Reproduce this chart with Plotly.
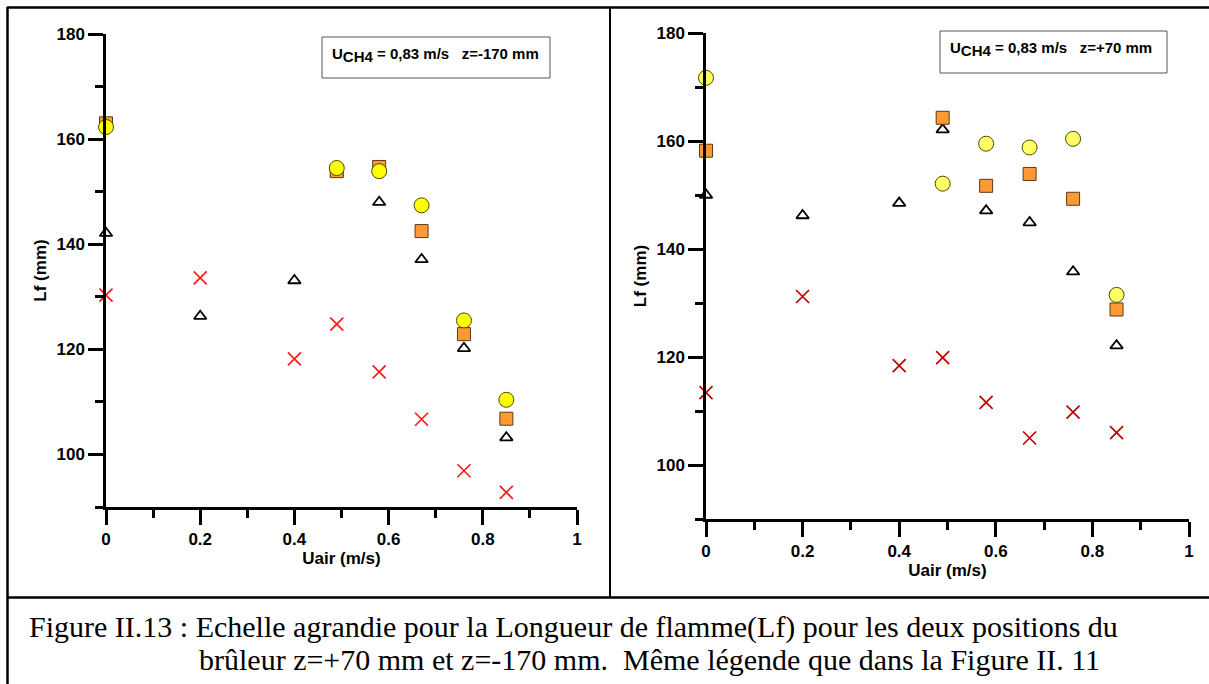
import plotly.graph_objects as go

W, H = 1209, 684

x_vals = [0, 0.2, 0.4, 0.49, 0.58, 0.67, 0.76, 0.85]
x_sub = [0, 0.49, 0.58, 0.67, 0.76, 0.85]

# Left panel: z = -170 mm
left_cross = [130.3, 133.6, 118.2, 124.8, 115.7, 106.7, 96.9, 92.8]
left_tri = [142.1, 126.3, 133.1, 153.5, 148.0, 137.1, 120.2, 103.2]
left_square = [163.0, 153.9, 154.7, 142.5, 122.9, 106.8]
left_circle = [162.3, 154.5, 153.9, 147.4, 125.5, 110.4]

# Right panel: z = +70 mm
right_cross = [113.4, 131.2, 118.4, 119.9, 111.6, 105.0, 109.8, 106.0]
right_tri = [150.0, 146.2, 148.5, 162.1, 147.1, 144.9, 135.8, 122.1]
right_square = [158.2, 164.3, 151.7, 153.9, 149.3, 128.8]
right_circle = [171.7, 152.1, 159.5, 158.8, 160.4, 131.5]

x_ticks = [0, 0.2, 0.4, 0.6, 0.8, 1]
y_ticks = [100, 120, 140, 160, 180]

box_left = "U<sub><span style='font-size:15px'>CH4</span></sub> = 0,83 m/s   z=-170 mm"
box_right = "U<sub><span style='font-size:15px'>CH4</span></sub> = 0,83 m/s   z=+70 mm"
caption1 = "Figure II.13 : Echelle agrandie pour la Longueur de flamme(Lf) pour les deux positions du"
caption2 = "brûleur z=+70 mm et z=-170 mm.  Même légende que dans la Figure II. 11"


def px(x):
    return x / W


def py(y):
    return 1 - y / H


fig = go.Figure()


def add_panel(xa, ya, cross, tri, sq, circ, cross_color, circ_color):
    fig.add_trace(go.Scatter(x=x_vals, y=tri, mode="markers", xaxis=xa, yaxis=ya,
                             marker=dict(symbol="triangle-up-open", size=11, color="black",
                                         line=dict(width=1.8, color="black")),
                             showlegend=False, cliponaxis=False))
    fig.add_trace(go.Scatter(x=x_sub, y=sq, mode="markers", xaxis=xa, yaxis=ya,
                             marker=dict(symbol="square", size=13, color="#FF9933",
                                         line=dict(width=1, color="#5a3a1a")),
                             showlegend=False, cliponaxis=False))
    fig.add_trace(go.Scatter(x=x_sub, y=circ, mode="markers", xaxis=xa, yaxis=ya,
                             marker=dict(symbol="circle", size=15, color=circ_color,
                                         line=dict(width=1, color="#4a4a00")),
                             showlegend=False, cliponaxis=False))
    fig.add_trace(go.Scatter(x=x_vals, y=cross, mode="markers", xaxis=xa, yaxis=ya,
                             marker=dict(symbol="x-thin-open", size=13, color=cross_color,
                                         line=dict(width=1.7, color=cross_color)),
                             showlegend=False, cliponaxis=False))


add_panel("x", "y", left_cross, left_tri, left_square, left_circle, "#FF1A1A", "#FFFF00")
add_panel("x2", "y2", right_cross, right_tri, right_square, right_circle, "#C00000", "#FFFF66")

tickfont = dict(family="Arial, Liberation Sans, sans-serif", size=17, color="black")
titlefont = dict(family="Arial, Liberation Sans, sans-serif", size=17, color="black")

xaxis_common = dict(range=[0, 1], tickvals=x_ticks, ticktext=["<b>%g</b>" % v for v in x_ticks],
                    ticks="outside", ticklen=15, tickwidth=2.5, tickcolor="black",
                    minor=dict(dtick=0.1, tick0=0, ticks="outside", ticklen=8, tickwidth=2.5, tickcolor="black"),
                    showline=True, linewidth=2.5, linecolor="black", showgrid=False, zeroline=False,
                    tickfont=tickfont, title=dict(text="<b>Uair (m/s)</b>", font=titlefont, standoff=1))
yaxis_common = dict(range=[90, 180], tickvals=y_ticks, ticktext=["<b>%d</b>" % v for v in y_ticks],
                    ticks="outside", ticklen=15, tickwidth=2.5, tickcolor="black",
                    minor=dict(dtick=10, tick0=90, ticks="outside", ticklen=8, tickwidth=2.5, tickcolor="black"),
                    showline=True, linewidth=2.5, linecolor="black", showgrid=False, zeroline=False,
                    tickfont=tickfont, title=dict(text="<b>Lf (mm)</b>", font=titlefont, standoff=6))

fig.update_layout(
    width=W, height=H, margin=dict(l=0, r=0, t=0, b=0, autoexpand=False),
    paper_bgcolor="white", plot_bgcolor="white",
    xaxis=dict(domain=[px(106), px(577)], anchor="y", **xaxis_common),
    yaxis=dict(domain=[py(507), py(34)], anchor="x", **yaxis_common),
    xaxis2=dict(domain=[px(706), px(1189)], anchor="y2", **xaxis_common),
    yaxis2=dict(domain=[py(519), py(33)], anchor="x2", **yaxis_common),
)

# Frame lines
line = dict(color="black", width=2.5)
fig.add_shape(type="line", xref="paper", yref="paper", x0=px(7), x1=1, y0=py(7.5), y1=py(7.5), line=line)
fig.add_shape(type="line", xref="paper", yref="paper", x0=px(7.5), x1=px(7.5), y0=py(7), y1=0, line=line)
fig.add_shape(type="line", xref="paper", yref="paper", x0=px(7), x1=1, y0=py(597.5), y1=py(597.5), line=line)
fig.add_shape(type="line", xref="paper", yref="paper", x0=px(610), x1=px(610), y0=py(7), y1=py(597.5),
              line=dict(color="black", width=2))

# Info boxes
boxfont = dict(family="Arial, Liberation Sans, sans-serif", size=15, color="black")
fig.add_shape(type="rect", xref="paper", yref="paper", x0=px(322), x1=px(550), y0=py(78), y1=py(37),
              line=dict(color="#555555", width=1), fillcolor="white")
fig.add_annotation(xref="paper", yref="paper", x=px(330), y=py(55), xanchor="left", yanchor="middle",
                   text="<b>" + box_left + "</b>", showarrow=False, font=boxfont)
fig.add_shape(type="rect", xref="paper", yref="paper", x0=px(940), x1=px(1167), y0=py(73), y1=py(31),
              line=dict(color="#555555", width=1), fillcolor="white")
fig.add_annotation(xref="paper", yref="paper", x=px(948), y=py(49), xanchor="left", yanchor="middle",
                   text="<b>" + box_right + "</b>", showarrow=False, font=boxfont)

capfont = dict(family="Liberation Serif, Times New Roman, serif", size=30, color="black")
fig.add_annotation(xref="paper", yref="paper", x=px(27), y=py(627), xanchor="left", yanchor="middle",
                   text=caption1, showarrow=False, font=capfont)
fig.add_annotation(xref="paper", yref="paper", x=px(197), y=py(659), xanchor="left", yanchor="middle",
                   text=caption2, showarrow=False, font=capfont)

fig.write_html("out.html", post_script="document.body.style.margin='0px';",
               config={"displayModeBar": False})
